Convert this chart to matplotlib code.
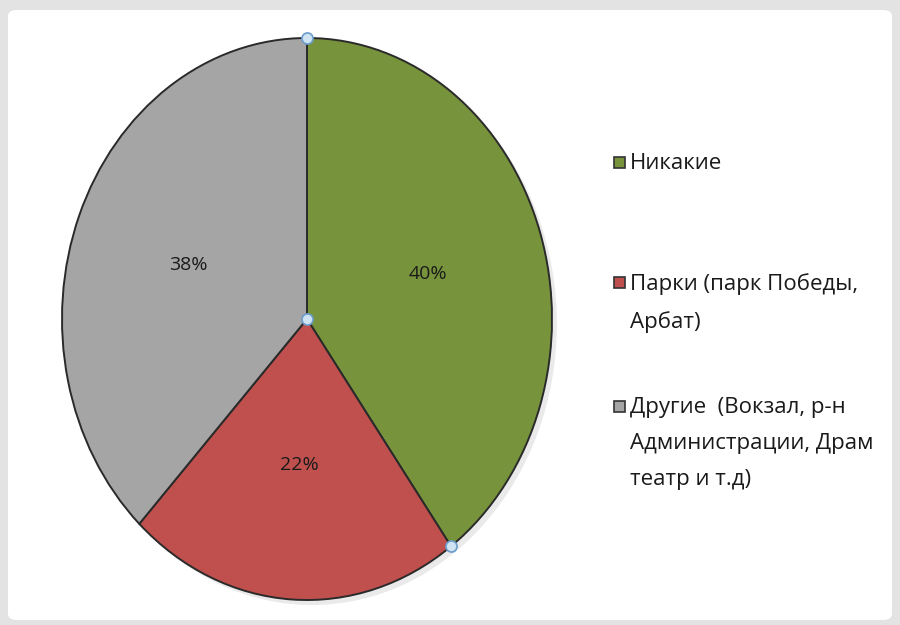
import matplotlib.pyplot as plt
from matplotlib.patches import FancyBboxPatch, Rectangle, Ellipse
import numpy as np

plt.rcParams['font.family'] = ['Open Sans', 'DejaVu Sans']

labels = ['Никакие', 'Парки (парк Победы,\nАрбат)',
          'Другие  (Вокзал, р-н\nАдминистрации, Драм\nтеатр и т.д)']
shares = [40, 22, 38]
colors = ['#77933c', '#c0504d', '#a5a5a5']

W, H = 900, 625
fig = plt.figure(figsize=(W / 100, H / 100), dpi=100)
fig.patch.set_facecolor('#e3e3e3')

# white chart panel
panel = FancyBboxPatch((8 / W, 5 / H), 884 / W, 610 / H,
                       boxstyle='round,pad=0,rounding_size=0.01',
                       transform=fig.transFigure, facecolor='white',
                       edgecolor='none', zorder=-1)
fig.patches.append(panel)

# pie axes stretched into an ellipse
ax = fig.add_axes([62 / W, 25 / H, 490 / W, 562 / H])
ax.set_zorder(1)
ax.add_patch(Ellipse((0.02, -0.018), 2.0, 2.0, facecolor='#dcdcdc',
                     edgecolor='none', zorder=0, alpha=0.6, clip_on=False))
wedges, texts = ax.pie(shares, colors=colors, startangle=90, counterclock=False,
                       radius=1.0,
                       wedgeprops=dict(edgecolor='#2a2a2a', linewidth=1.4))
ax.set_aspect('auto')
ax.set_xlim(-1.0, 1.0)
ax.set_ylim(-1.0, 1.0)

# percentage labels
cum = np.cumsum([0] + shares)
for i, s in enumerate(shares):
    mid = np.deg2rad(90 - 3.6 * (cum[i] + s / 2))
    ax.text(0.52 * np.cos(mid), 0.52 * np.sin(mid), f'{s}%',
            ha='center', va='center', fontsize=14, color='#1a1a1a')

# selection handles
b = np.deg2rad(90 - 3.6 * cum[1])
for hx, hy in [(0, 1), (0, 0), (np.cos(b), np.sin(b))]:
    ax.plot(hx, hy, 'o', markersize=8, markerfacecolor='#cfe3f2',
            markeredgecolor='#6a9ccc', markeredgewidth=1.2, clip_on=False,
            zorder=5)

# legend
leg_y = [162, 282, 406]
for lab, c, y in zip(labels, colors, leg_y):
    fig.patches.append(Rectangle((614 / W, 1 - (y + 6) / H), 11 / W, 11 / H,
                                 transform=fig.transFigure, facecolor=c,
                                 edgecolor='#333333', linewidth=1.2))
    fig.text(630 / W, 1 - (y - 9) / H, lab, ha='left', va='top',
             fontsize=16, color='#1a1a1a', linespacing=1.95)

plt.savefig('out.png', dpi=100)
